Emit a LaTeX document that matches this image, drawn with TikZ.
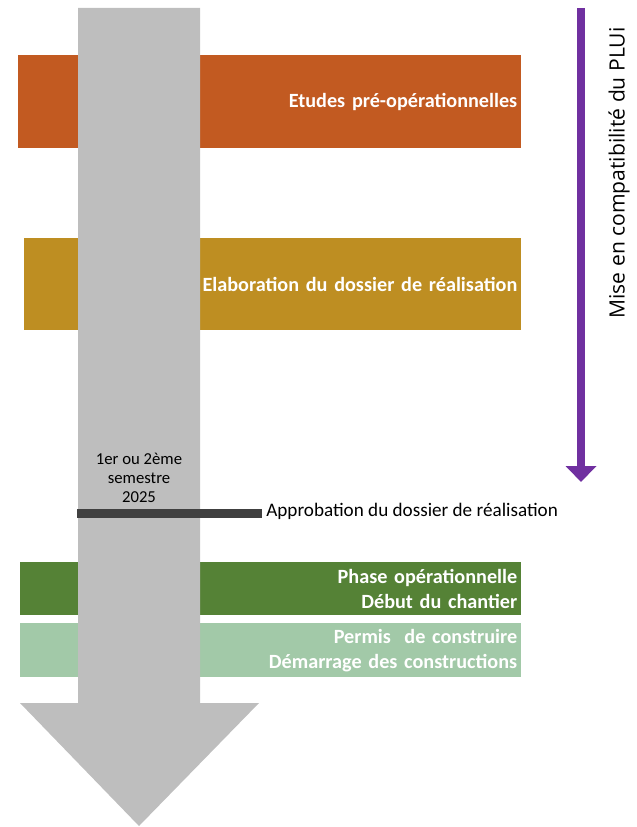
\documentclass[tikz,border=0pt]{standalone}
\usepackage{fontspec}
\setmainfont{Carlito}
\newfontfamily\sidefont{Open Sans}
\usetikzlibrary{arrows.meta}
\definecolor{etudes}{HTML}{C25A21}
\definecolor{elabo}{HTML}{BE8E22}
\definecolor{phaseop}{HTML}{558236}
\definecolor{permis}{HTML}{A2C9A8}
\definecolor{fleche}{HTML}{BEBEBE}
\definecolor{barre}{HTML}{404040}
\definecolor{plui}{HTML}{7030A0}
\begin{document}
\begin{tikzpicture}[x=0.02cm,y=-0.02cm,
  phase/.style={anchor=north west, inner xsep=0.08cm, inner ysep=0pt, align=right, text=white, font=\bfseries\fontsize{11.5}{14}\selectfont},
  small/.style={font=\fontsize{9.5}{11}\selectfont}]
\useasboundingbox (0,0) rectangle (636,827);

%phases
\node[phase, fill=etudes, minimum height=1.86cm, text width=9.9cm] (etudes) at (18,55) {Etudes pré-opérationnelles};
\node[phase, fill=elabo, minimum height=1.84cm, text width=9.78cm] (elabo) at (24,238) {Elaboration du dossier de réalisation};
\node[phase, fill=phaseop, minimum height=1.06cm, text width=9.86cm] (phaseop) at (20,562) {Phase opérationnelle\\Début du chantier};
\node[phase, fill=permis, minimum height=1.08cm, text width=9.86cm] (permis) at (20,623) {Permis\ \ de construire\\Démarrage des constructions};
%fin

%grande fleche
\fill[fleche] (78,8) -- (200,8) -- (200,703) -- (259,703) -- (139,826) -- (20,703) -- (78,703) -- cycle;
%fin

%approbation
\node[small, align=center] (sem) at (139,478) {1er ou 2ème\\semestre\\2025};
\coordinate (barW) at (77,513);
\node[anchor=west, inner xsep=0.08cm, font=\fontsize{10.9}{12}\selectfont] (appro) at (262,511) {Approbation du dossier de réalisation};
\draw[barre, line width=0.18cm] (barW) -- (barW -| appro.west);
%fin

%PLUi
\coordinate (pTop) at (581,8);
\coordinate (pEnd) at (581,482);
\draw[plui, line width=0.16cm, -{Triangle[width=0.6cm, length=0.32cm]}] (pTop) -- (pEnd);
\node[rotate=90, font=\sidefont\fontsize{12}{14}\selectfont] (mise) at (619,173) {Mise en compatibilité du PLUi};
%fin
\end{tikzpicture}
\end{document}
